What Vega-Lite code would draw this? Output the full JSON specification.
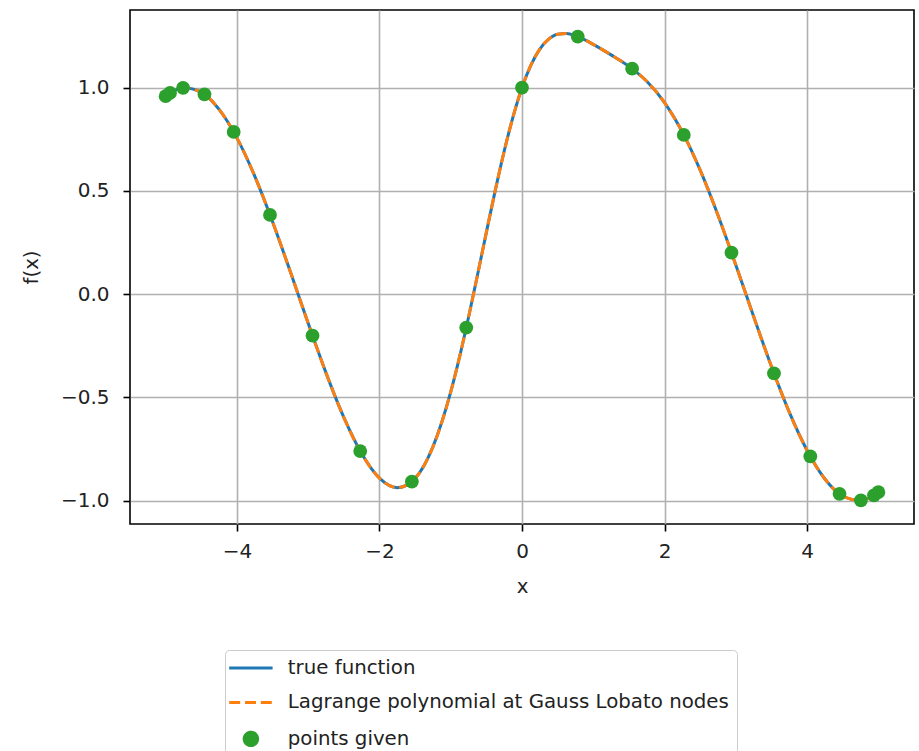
{
  "$schema": "https://vega.github.io/schema/vega-lite/v6.json",
  "width": 784,
  "height": 514,
  "autosize": "none",
  "padding": {"left": 130, "top": 10, "right": 5, "bottom": 227},
  "background": "white",
  "config": {
    "font": "DejaVu Sans",
    "view": {"stroke": "black", "strokeWidth": 1.6},
    "axis": {
      "grid": true,
      "gridColor": "#b0b0b0",
      "gridWidth": 1.6,
      "domain": false,
      "tickColor": "black",
      "tickWidth": 1.6,
      "tickSize": 7,
      "labelFont": "DejaVu Sans",
      "labelFontSize": 20,
      "labelColor": "#222222",
      "titleFont": "DejaVu Sans",
      "titleFontSize": 19.8,
      "titleFontWeight": "normal",
      "titleColor": "#222222"
    }
  },
  "datasets": {
    "curve": [
      {"x": -5, "y": 0.9589}, {"x": -4.75, "y": 0.9993}, {"x": -4.5, "y": 0.9775}, {"x": -4.25, "y": 0.895},
      {"x": -4, "y": 0.7568}, {"x": -3.75, "y": 0.5716}, {"x": -3.5, "y": 0.3508}, {"x": -3.25, "y": 0.1082},
      {"x": -3, "y": -0.1411}, {"x": -2.75, "y": -0.3812}, {"x": -2.5, "y": -0.5966}, {"x": -2.25, "y": -0.7718},
      {"x": -2, "y": -0.891}, {"x": -1.75, "y": -0.9372}, {"x": -1.5, "y": -0.8921}, {"x": -1.25, "y": -0.7394},
      {"x": -1, "y": -0.4736}, {"x": -0.875, "y": -0.3024}, {"x": -0.75, "y": -0.1118}, {"x": -0.625, "y": 0.0916},
      {"x": -0.5, "y": 0.2994}, {"x": -0.375, "y": 0.5025}, {"x": -0.25, "y": 0.692}, {"x": -0.125, "y": 0.8598},
      {"x": 0, "y": 1.0}, {"x": 0.125, "y": 1.1092}, {"x": 0.25, "y": 1.1868}, {"x": 0.375, "y": 1.2351},
      {"x": 0.5, "y": 1.2582}, {"x": 0.625, "y": 1.2618}, {"x": 0.75, "y": 1.2514}, {"x": 0.875, "y": 1.2326},
      {"x": 1, "y": 1.2094}, {"x": 1.25, "y": 1.1586}, {"x": 1.5, "y": 1.1029}, {"x": 1.75, "y": 1.0308},
      {"x": 2, "y": 0.9276}, {"x": 2.25, "y": 0.7844}, {"x": 2.5, "y": 0.6004}, {"x": 2.75, "y": 0.3822},
      {"x": 3, "y": 0.1411}, {"x": 3.25, "y": -0.1082}, {"x": 3.5, "y": -0.3508}, {"x": 3.75, "y": -0.5716},
      {"x": 4, "y": -0.7568}, {"x": 4.25, "y": -0.895}, {"x": 4.5, "y": -0.9775}, {"x": 4.75, "y": -0.9993},
      {"x": 5, "y": -0.9589}
    ],
    "nodes": [
      {"x": 5, "y": -0.9589}, {"x": 4.9384, "y": -0.9746}, {"x": 4.7553, "y": -0.9991}, {"x": 4.455, "y": -0.9671},
      {"x": 4.0451, "y": -0.7855}, {"x": 3.5355, "y": -0.3838}, {"x": 2.9389, "y": 0.2015}, {"x": 2.27, "y": 0.7713},
      {"x": 1.5451, "y": 1.0916}, {"x": 0.7822, "y": 1.2468}, {"x": 0, "y": 1.0}, {"x": -0.7822, "y": -0.162},
      {"x": -1.5451, "y": -0.9078}, {"x": -2.27, "y": -0.7597}, {"x": -2.9389, "y": -0.2011}, {"x": -3.5355, "y": 0.3838},
      {"x": -4.0451, "y": 0.7855}, {"x": -4.455, "y": 0.9671}, {"x": -4.7553, "y": 0.9991}, {"x": -4.9384, "y": 0.9746},
      {"x": -5, "y": 0.9589}
    ]
  },
  "encoding": {
    "x": {
      "field": "x", "type": "quantitative",
      "scale": {"domain": [-5.5, 5.5], "nice": false, "zero": false},
      "axis": {"values": [-4, -2, 0, 2, 4], "title": "x", "labelPadding": 10, "titlePadding": 15}
    },
    "y": {
      "field": "y", "type": "quantitative",
      "scale": {"domain": [-1.113, 1.376], "nice": false, "zero": false},
      "axis": {"values": [-1, -0.5, 0, 0.5, 1], "format": ".1f", "title": "f(x)", "labelPadding": 14, "titlePadding": 19}
    }
  },
  "layer": [
    {
      "data": {"name": "curve"},
      "mark": {"type": "line", "strokeWidth": 3, "interpolate": "monotone"},
      "encoding": {
        "color": {
          "datum": "true function",
          "type": "nominal",
          "scale": {
            "domain": ["true function", "Lagrange polynomial at Gauss Lobato nodes", "points given"],
            "range": ["#1f77b4", "#ff7f0e", "#2ca02c"]
          },
          "legend": {
            "title": null,
            "orient": "none",
            "legendX": 95,
            "legendY": 638,
            "direction": "vertical",
            "padding": 8,
            "strokeColor": "#cccccc",
            "fillColor": "white",
            "cornerRadius": 4,
            "rowPadding": 13.5,
            "labelFont": "DejaVu Sans",
            "labelFontSize": 19.8,
            "labelColor": "#222222",
            "labelLimit": 0,
            "labelOffset": 27,
            "symbolOffset": 8,
            "symbolSize": 196,
            "symbolStrokeWidth": 3,
            "encode": {
              "legend": {"update": {"y": {"value": 640}}},
              "symbols": {
                "update": {
                  "shape": {"signal": "datum.value === 'points given' ? 'circle' : 'M-3.1,0H3.1'"},
                  "size": {"signal": "datum.value === 'points given' ? 180 : 196"},
                  "fill": {"signal": "datum.value === 'points given' ? '#2ca02c' : 'transparent'"},
                  "stroke": {"signal": "datum.value === 'points given' ? 'transparent' : (datum.value === 'true function' ? '#1f77b4' : '#ff7f0e')"},
                  "strokeDash": {"signal": "datum.value === 'Lagrange polynomial at Gauss Lobato nodes' ? [11, 4.8] : [1, 0]"},
                  "strokeWidth": {"value": 3},
                  "opacity": {"value": 1}
                }
              }
            }
          }
        }
      }
    },
    {
      "data": {"name": "curve"},
      "mark": {"type": "line", "strokeWidth": 3, "strokeDash": [11, 4.8], "interpolate": "monotone"},
      "encoding": {"color": {"datum": "Lagrange polynomial at Gauss Lobato nodes", "type": "nominal"}}
    },
    {
      "data": {"name": "nodes"},
      "mark": {"type": "point", "filled": true, "size": 190, "opacity": 1, "shape": "circle"},
      "encoding": {"color": {"datum": "points given", "type": "nominal"}}
    }
  ]
}
